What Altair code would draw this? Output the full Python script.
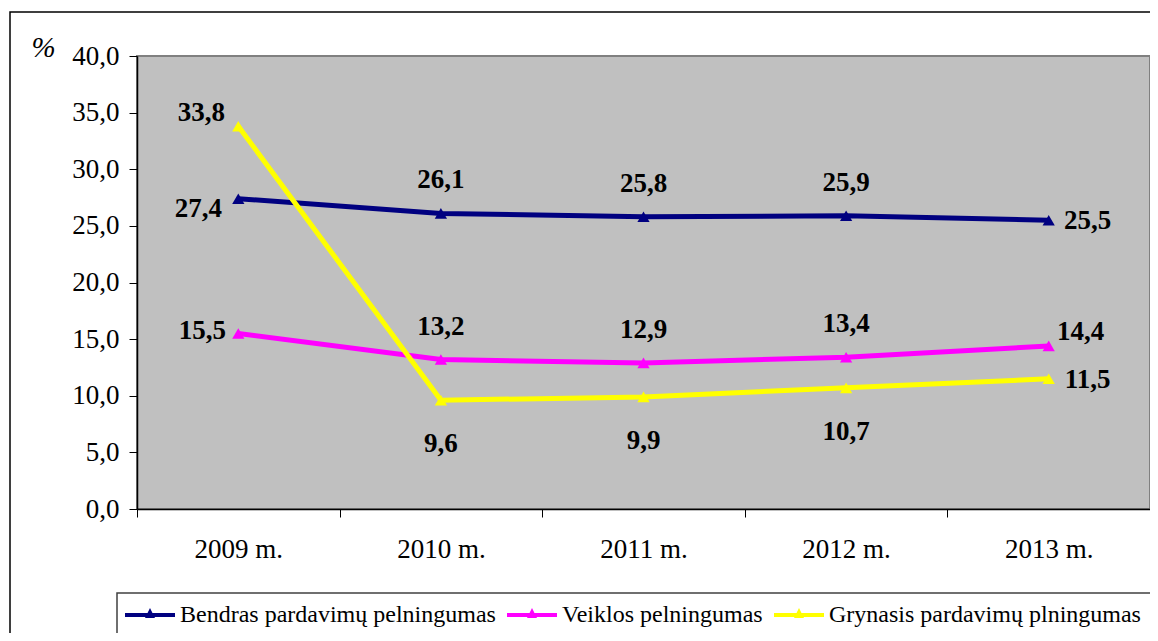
import altair as alt
import pandas as pd

# ---- data ----
years = ["2009 m.", "2010 m.", "2011 m.", "2012 m.", "2013 m."]
series_names = [
    "Bendras pardavimų pelningumas",
    "Veiklos pelningumas",
    "Grynasis pardavimų plningumas",
]
bendras = [27.4, 26.1, 25.8, 25.9, 25.5]
veiklos = [15.5, 13.2, 12.9, 13.4, 14.4]
grynasis = [33.8, 9.6, 9.9, 10.7, 11.5]
y_ticks = [0, 5, 10, 15, 20, 25, 30, 35, 40]

# label placement per point (style)
places = [
    ["downleft", "above", "above", "above", "right"],
    ["left", "above", "above", "above", "upright"],
    ["upleft", "below", "below", "below", "right"],
]
offsets = {
    "above": (0, -33),
    "below": (0, 44),
    "left": (-36, -2),
    "right": (39, 1),
    "upleft": (-37, -13),
    "downleft": (-40, 10),
    "upright": (32, -14),
}
colors = ["#000080", "#FF00FF", "#FFFF00"]

rows = []
for si, (name, vals) in enumerate(zip(series_names, [bendras, veiklos, grynasis])):
    for yi, (yr, v) in enumerate(zip(years, vals)):
        rows.append({
            "year": yr,
            "series": name,
            "line_series": name,
            "value": v,
            "label": f"{v:.1f}".replace(".", ","),
            "place": places[si][yi],
            "order": si,
        })
df = pd.DataFrame(rows)

FONT = "Liberation Serif"

x_enc = alt.X(
    "year:N",
    sort=years,
    scale=alt.Scale(paddingInner=0, paddingOuter=0),
    axis=alt.Axis(
        title=None, labelAngle=0, tickBand="extent", domainColor="black",
        domainWidth=1.5, tickColor="black", tickSize=8, labelFont=FONT,
        labelFontSize=27, labelColor="black", labelPadding=19, grid=False,
    ),
)
y_enc = alt.Y(
    "value:Q",
    scale=alt.Scale(domain=[0, 40], nice=False, zero=True),
    axis=alt.Axis(
        values=y_ticks,
        labelExpr="replace(format(datum.value, '.1f'), '.', ',')",
        title="%", titleAngle=0, titleX=-94, titleY=-9, titleFont=FONT,
        titleFontSize=29, titleFontWeight="normal", titleFontStyle="italic",
        titleColor="black", titleAlign="center", titleBaseline="middle",
        grid=False, tickSize=8, tickColor="black", domainColor="black",
        domainWidth=1.5, labelFont=FONT, labelFontSize=27, labelColor="black",
        labelPadding=10,
    ),
)

sym_path = ("M-1,-0.08L1,-0.08L1,0.08L-1,0.08Z "
            "M-0.2,0.12L0,-0.28L0.2,0.12Z")

frame = pd.DataFrame({"k": [0]})
outer_border = alt.Chart(frame).mark_rect(
    fill="transparent", stroke="black", strokeWidth=1.5
).encode(x=alt.value(-127), x2=alt.value(3000), y=alt.value(-44), y2=alt.value(3000))

legend_box = alt.Chart(frame).mark_rect(
    fill="white", stroke="#404040", strokeWidth=1.5
).encode(x=alt.value(-20), x2=alt.value(3000), y=alt.value(537), y2=alt.value(3000))

base = alt.Chart(df)

# stroke scale uses a data-driven (sorted) domain so its legend is not merged
lines = base.mark_line(strokeWidth=5).encode(
    x=x_enc, y=y_enc,
    stroke=alt.Stroke("line_series:N", sort=series_names,
                      scale=alt.Scale(range=colors), legend=None),
    order=alt.Order("order:Q"),
)

points = base.mark_point(shape="triangle-up", filled=True, size=150, opacity=1).encode(
    x=x_enc, y=y_enc,
    fill=alt.Fill(
        "series:N",
        scale=alt.Scale(domain=series_names, range=colors),
        legend=alt.Legend(
            title=None, orient="none", legendX=-12, legendY=534,
            direction="horizontal", columns=3, symbolType=sym_path,
            symbolSize=2500, symbolStrokeWidth=0, symbolOpacity=1,
            labelFont=FONT, labelFontSize=24, labelColor="black",
            labelLimit=600, labelOffset=5, columnPadding=11, padding=0,
            zindex=5,
        ),
    ),
)

text_layers = []
for p, (dx, dy) in offsets.items():
    text_layers.append(
        base.transform_filter(alt.datum.place == p).mark_text(
            dx=dx, dy=dy, font=FONT, fontSize=27, fontWeight="bold",
            color="black", align="center", baseline="middle",
        ).encode(x=x_enc, y=y_enc, text="label:N")
    )

chart = alt.layer(
    outer_border, legend_box, lines, points, *text_layers
).properties(
    width=1013, height=453,
    padding={"left": 129, "top": 48, "right": 0, "bottom": 124},
    autosize=alt.AutoSizeParams(type="none"),
    background="white",
).configure(
    font=FONT,
).configure_legend(
    labelFont=FONT, labelFontSize=24, labelColor="black",
).configure_view(
    fill="#C0C0C0", stroke="#808080", strokeWidth=2,
)

chart.save("out.html", embed_options={"renderer": "svg", "actions": False})
